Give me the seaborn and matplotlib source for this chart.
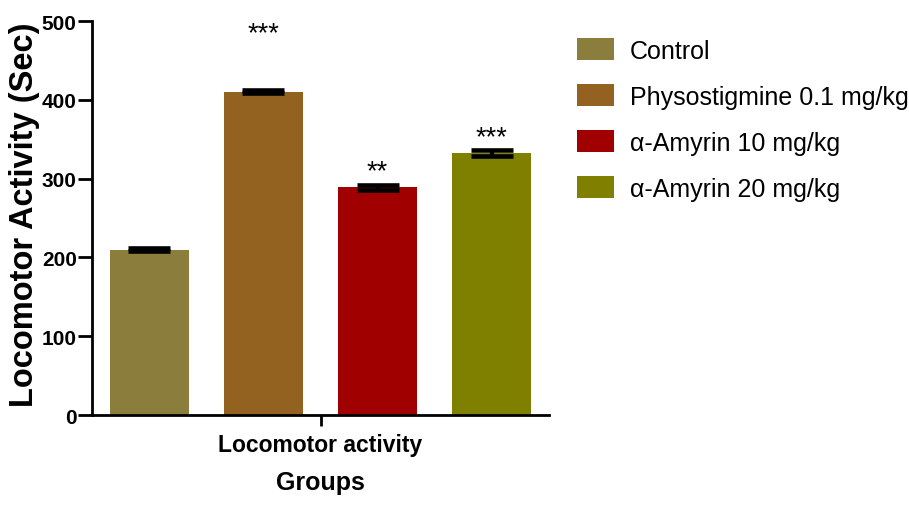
import numpy as np
import pandas as pd
import matplotlib
matplotlib.use("Agg")
import matplotlib.pyplot as plt
import seaborn as sns
from matplotlib.patches import Patch

# Locomotor activity (sec), mean ± SEM per treatment group
groups = ["Control", "Physostigmine 0.1 mg/kg", "α-Amyrin 10 mg/kg", "α-Amyrin 20 mg/kg"]
means = [210, 410, 289, 333]
sems = [2, 2, 3.4, 3.8]
stars = ["", "***", "**", "***"]
star_y = [None, 484, 310, 353]
colors = ["#8B7D3B", "#936120", "#A00000", "#808000"]
category = "Locomotor activity"
yticks = [0, 100, 200, 300, 400, 500]

sns.set_style("ticks")
plt.rcParams["font.family"] = ["Liberation Sans", "DejaVu Sans"]
plt.rcParams["text.color"] = "black"
plt.rcParams["xtick.color"] = "black"
plt.rcParams["ytick.color"] = "black"
plt.rcParams["axes.labelcolor"] = "black"

df = pd.DataFrame({"Assay": [category] * len(groups), "Group": groups, "Time": means})

fig = plt.figure(figsize=(9.09, 5.06), dpi=100)
W, H = 909, 506
ax = fig.add_axes([92 / W, 1 - 416 / H, 457 / W, (416 - 22) / H])

sns.barplot(data=df, x="Assay", y="Time", hue="Group", hue_order=groups,
            palette=colors, saturation=1, errorbar=None, width=0.998, gap=0.3,
            linewidth=0, legend=False, ax=ax)

# error bars with wide GraphPad-style caps
for cont, m, s in zip(ax.containers, means, sems):
    bar = cont[0]
    cx = bar.get_x() + bar.get_width() / 2
    ax.errorbar(cx, m, yerr=s, fmt="none", ecolor="black", elinewidth=3,
                capsize=15, capthick=3.3, zorder=5)

for cont, st, sy in zip(ax.containers, stars, star_y):
    if st:
        bar = cont[0]
        cx = bar.get_x() + bar.get_width() / 2
        ax.text(cx, sy, st, ha="center", va="center", fontsize=19.5, color="black")

ax.set_xlim(-0.5, 0.5)
ax.set_ylim(0, 500)
ax.set_yticks(yticks)
ax.set_yticklabels([str(t) for t in yticks], fontsize=15, fontweight="bold")
ax.set_xticks([0])
ax.set_xticklabels([category], fontsize=16.5, fontweight="bold")
ax.tick_params(axis="y", length=10, width=2, pad=1, direction="out")
ax.tick_params(axis="x", length=8, width=2, pad=5, direction="out")
ax.set_xlabel("Groups", fontsize=18, fontweight="bold", labelpad=10)
ax.set_ylabel("")
for side in ["top", "right"]:
    ax.spines[side].set_visible(False)
for side in ["left", "bottom"]:
    ax.spines[side].set_linewidth(2)
    ax.spines[side].set_color("black")

fig.text(25 / W, 1 - 215 / H, "Locomotor Activity (Sec)", rotation=90,
         ha="center", va="center", fontsize=23.5, fontweight="bold")

handles = [Patch(facecolor=c, edgecolor="none") for c in colors]
leg = fig.legend(handles, groups, loc="upper left",
                 bbox_to_anchor=(577 / W, 1 - 39 / H), frameon=False,
                 fontsize=18, handlelength=1.48, handleheight=1.0,
                 handletextpad=0.64, labelspacing=0.85, borderpad=0,
                 borderaxespad=0)

fig.savefig("out.png", dpi=100)
